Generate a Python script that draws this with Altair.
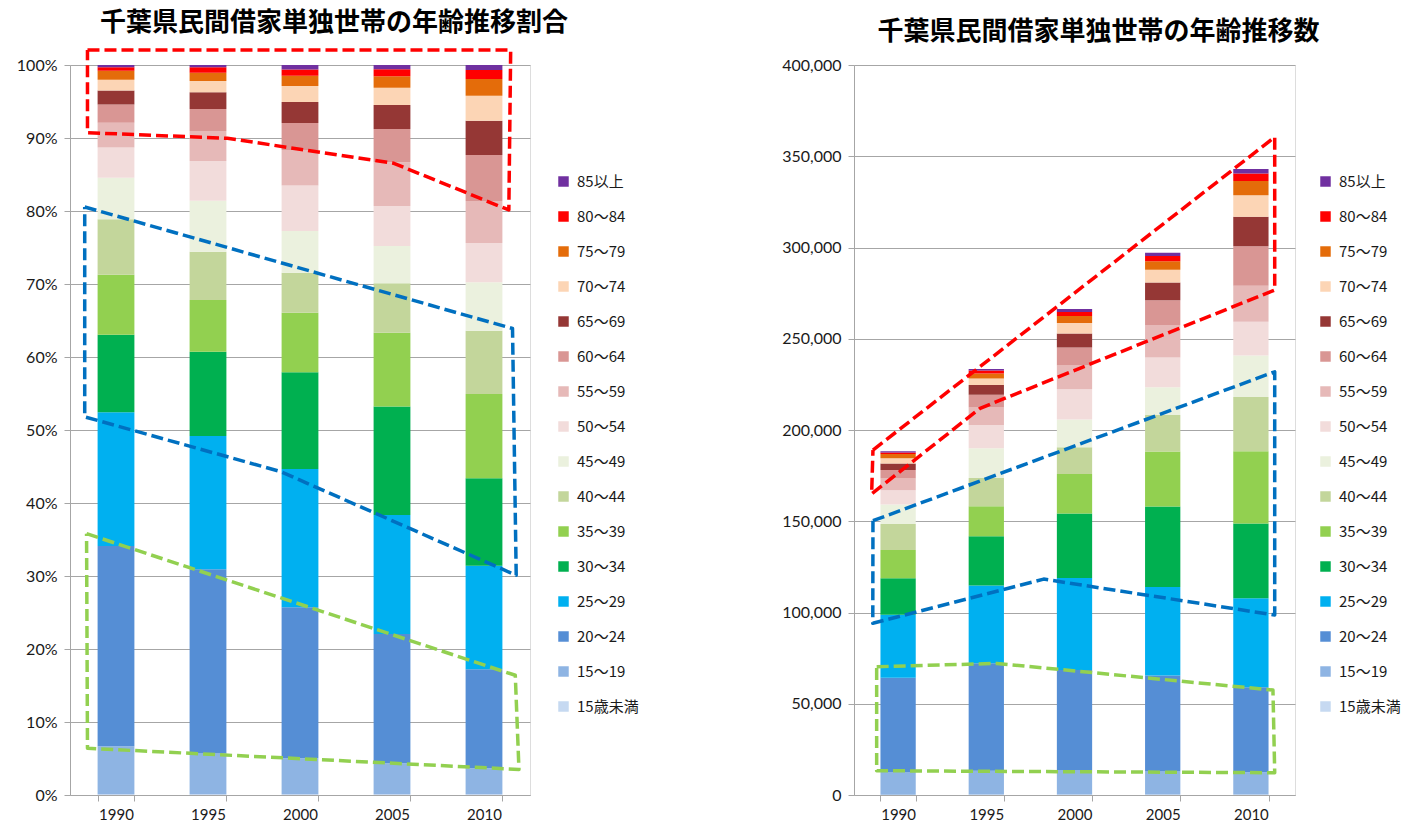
import altair as alt
import pandas as pd

years = ["1990", "1995", "2000", "2005", "2010"]
ages = ["15歳未満", "15～19", "20～24", "25～29", "30～34", "35～39", "40～44", "45～49",
        "50～54", "55～59", "60～64", "65～69", "70～74", "75～79", "80～84", "85以上"]
colors = ["#C6D9F1", "#8EB4E3", "#558ED5", "#00B0F0", "#00B050", "#92D050", "#C3D69B", "#EBF1DE",
          "#F2DCDB", "#E6B9B8", "#D99694", "#953735", "#FCD5B5", "#E46C0A", "#FF0000", "#7030A0"]

# households per age group, 1990..2010
under15 = [200, 230, 270, 300, 340]
a15_19 = [12400, 13070, 13100, 12600, 12180]
a20_24 = [51600, 58840, 55100, 52620, 46510]
a25_29 = [34500, 42640, 50460, 48460, 48740]
a30_34 = [20000, 26960, 35260, 44090, 41020]
a35_39 = [15500, 16520, 21760, 30100, 39620]
a40_44 = [14300, 15450, 14590, 20080, 29740]
a45_49 = [10700, 16310, 15210, 15180, 22740]
a50_54 = [7800, 12670, 16640, 16280, 18420]
a55_59 = [6400, 9590, 12920, 17800, 19790]
a60_64 = [4700, 7030, 9830, 13550, 21610]
a65_69 = [3600, 5340, 7670, 9770, 16120]
a70_74 = [2800, 3620, 5830, 7040, 11760]
a75_79 = [2300, 2660, 3780, 4630, 7820]
a80_84 = [900, 1700, 2290, 2820, 4180]
a85 = [600, 750, 1600, 1780, 2400]
series = [under15, a15_19, a20_24, a25_29, a30_34, a35_39, a40_44, a45_49,
          a50_54, a55_59, a60_64, a65_69, a70_74, a75_79, a80_84, a85]

# dashed annotation outlines (x in year-slot units 0..5, y in data units)
left_red_x = [0.19, 4.79, 4.77, 3.52, 1.71, 0.19, 0.19]
left_red_y = [1.0205, 1.0205, 0.8014, 0.8653, 0.8996, 0.9073, 1.0205]
left_blue_x = [0.16, 4.81, 4.85, 2.29, 0.16, 0.16]
left_blue_y = [0.8055, 0.639, 0.301, 0.443, 0.518, 0.8055]
left_green_x = [0.18, 4.84, 4.88, 0.19, 0.18]
left_green_y = [0.358, 0.164, 0.035, 0.064, 0.358]

right_red_x = [0.215, 4.77, 4.77, 1.43, 0.2, 0.215]
right_red_y = [189000, 360500, 276700, 211900, 165000, 189000]
right_blue_x = [0.215, 4.77, 4.77, 2.15, 0.213, 0.215]
right_blue_y = [150300, 231900, 98600, 118300, 94100, 150300]
right_green_x = [0.257, 1.62, 4.75, 4.77, 0.257, 0.257]
right_green_y = [70300, 72100, 57500, 12200, 13300, 70300]

rows = []
for ai, (age, vals) in enumerate(zip(ages, series)):
    for yi, yr in enumerate(years):
        rows.append({"year": yr, "age": age, "ord": ai, "count": vals[yi]})
df = pd.DataFrame(rows)

NUM_FONT = "Lato"
JP_FONT = "Noto Sans CJK JP"
GRID = "#A6A6A6"


def outline(xs, ys, color, yscale):
    d = pd.DataFrame({"u": xs, "v": ys, "k": list(range(len(xs)))})
    return alt.Chart(d).mark_line(color=color, strokeWidth=3.5, strokeDash=[12, 5],
                                  strokeCap="butt", strokeJoin="round").encode(
        x=alt.X("u:Q", scale=alt.Scale(domain=[0, 5], nice=False, zero=False), axis=None),
        y=alt.Y("v:Q", scale=yscale, title=None),
        order="k:Q",
    )


def panel(title, normalize, yscale, yaxis, w, lx, polys, dx):
    bars = alt.Chart(df).mark_bar().encode(
        x=alt.X("year:N", sort=years,
                scale=alt.Scale(paddingInner=0.6, paddingOuter=0.3),
                axis=alt.Axis(title=None, labelAngle=0, tickBand="extent", grid=False,
                              domainColor=GRID, tickColor=GRID, tickSize=6,
                              labelFont=NUM_FONT, labelFontSize=15, labelColor="#1a1a1a",
                              labelPadding=6)),
        y=alt.Y("count:Q", stack="normalize" if normalize else True, scale=yscale,
                axis=yaxis),
        color=alt.Color("age:N", scale=alt.Scale(domain=ages[::-1], range=colors[::-1]),
                        legend=alt.Legend(title=None, orient="none", legendX=lx, legendY=109,
                                          symbolType="square", symbolSize=110,
                                          symbolStrokeWidth=0, labelFont=JP_FONT,
                                          labelFontSize=15, labelColor="#1a1a1a",
                                          rowPadding=19, labelOffset=6, padding=0,
                                          labelLimit=200)),
        order=alt.Order("ord:Q", sort="ascending"),
    )
    layers = [bars] + [outline(px, py, c, yscale) for px, py, c in polys]
    return alt.layer(*layers).resolve_scale(x="independent").properties(
        width=w, height=730,
        title=alt.TitleParams(title, font=JP_FONT, fontSize=26, fontWeight="bold",
                              color="#000000", anchor="middle", offset=12, dx=dx),
    )


yl_scale = alt.Scale(domain=[0, 1], nice=False)
yl_axis = alt.Axis(title=None, format=".0%", values=[i / 10 for i in range(11)],
                   gridColor=GRID, domainColor=GRID, tickColor=GRID, tickSize=6,
                   labelFont=NUM_FONT, labelFontSize=16, labelColor="#1a1a1a", labelPadding=7)
yr_scale = alt.Scale(domain=[0, 400000], nice=False)
yr_axis = alt.Axis(title=None, format=",d", values=list(range(0, 400001, 50000)),
                   gridColor=GRID, domainColor=GRID, tickColor=GRID, tickSize=6,
                   labelFont=NUM_FONT, labelFontSize=16, labelColor="#1a1a1a", labelPadding=7)

left = panel("千葉県民間借家単独世帯の年齢推移割合", True, yl_scale, yl_axis, 460, 486,
             [(left_red_x, left_red_y, "#FF0000"),
              (left_blue_x, left_blue_y, "#0070C0"),
              (left_green_x, left_green_y, "#92D050")], 34)
right = panel("千葉県民間借家単独世帯の年齢推移数", False, yr_scale, yr_axis, 441, 464,
              [(right_red_x, right_red_y, "#FF0000"),
               (right_blue_x, right_blue_y, "#0070C0"),
               (right_green_x, right_green_y, "#92D050")], 24)

chart = alt.hconcat(left, right, spacing=141).resolve_scale(color="independent").properties(
    padding={"left": 15, "top": 9, "right": 0, "bottom": 0}
).configure_view(stroke=None).configure(background="white")

chart.save("out.html", embed_options={"renderer": "svg", "actions": False})
